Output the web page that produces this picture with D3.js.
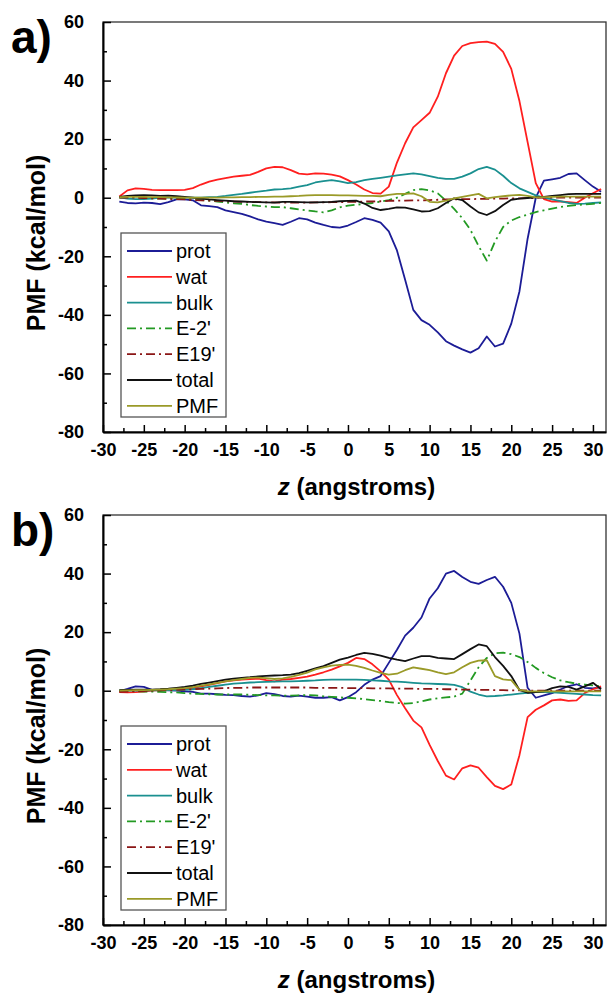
<!DOCTYPE html>
<html>
<head>
<meta charset="utf-8">
<script src="https://cdn.jsdelivr.net/npm/d3@7"></script>
<style>
	body { margin: 0; background: #fff; }
	svg { display: block; font-family: 'Liberation Sans', Arial, sans-serif; }
</style>
</head>
<body>
<svg></svg>
<script>
// z positions (angstroms) shared by every curve
const zVals = [-28, -27, -26, -25, -24, -23, -22, -21, -20, -19, -18, -17, -16, -15, -14, -13, -12, -11, -10, -9,
	-8, -7, -6, -5, -4, -3, -2, -1, 0, 1, 2, 3, 4, 5, 6, 7, 8, 9, 10, 11,
	12, 13, 14, 15, 16, 17, 18, 19, 20, 21, 22, 23, 24, 25, 26, 27, 28, 29, 30, 31];

// panel a
const protA = [-1.3, -1.8, -1.9, -1.7, -1.8, -2.2, -1.5, -0.6, -0.6, -0.9, -2.6, -2.9, -3.2, -4.3, -4.9, -5.5, -6.4, -7.4, -8.2, -8.7,
	-9.3, -8.2, -7.0, -7.4, -8.5, -9.3, -10.0, -10.2, -9.5, -8.3, -7.0, -7.6, -8.5, -11.5, -18, -28, -38.3, -41.8, -43.4, -46,
	-49, -50.5, -51.8, -52.9, -51.4, -47.4, -50.8, -49.8, -43, -32, -14, 0, 5.8, 6.3, 6.8, 8.1, 8.3, 6, 3.8, 2];
const watA = [0.4, 2.5, 3.2, 3.0, 2.7, 2.6, 2.6, 2.6, 2.7, 3.3, 4.5, 5.5, 6.2, 6.7, 7.2, 7.5, 7.8, 8.8, 10.0, 10.5,
	10.4, 9.4, 8.2, 8.0, 8.3, 8.2, 7.9, 7.3, 6.0, 4.5, 2.8, 1.6, 1.4, 3.8, 12.0, 18.6, 24.0, 26.5, 29.0, 34.5,
	42.5, 48.5, 51.8, 52.8, 53.1, 53.3, 52.5, 49.8, 44, 33, 19, 5, -0.5, -1.3, -1.3, -1.5, -1.8, 0, 1.5, 3];
const bulkA = [0.1, -0.3, -0.5, -0.5, -0.3, 0, 0, 0, 0, 0, 0, 0.2, 0.3, 0.6, 1.0, 1.3, 1.7, 2.1, 2.4, 2.8,
	2.9, 3.2, 3.8, 4.3, 5.2, 5.7, 6.0, 5.6, 5.0, 5.3, 6.0, 6.4, 6.8, 7.2, 7.6, 8.0, 8.3, 8.0, 7.4, 6.8,
	6.4, 6.4, 7.2, 8.3, 9.8, 10.5, 9.6, 7.5, 5.0, 3.2, 2.0, 0.8, 0, -0.6, -1.2, -1.8, -2.1, -2.0, -1.8, -1.6];
const e2A = [0, 0.2, 0.2, 0, -0.2, -0.3, -0.3, -0.3, -0.4, -0.6, -0.8, -1.0, -1.3, -1.6, -1.9, -2.1, -2.5, -2.8, -3.0, -3.2,
	-3.2, -3.6, -4.0, -4.3, -4.7, -5.0, -4.3, -3.3, -2.7, -2.4, -2.1, -1.8, -1.3, -0.8, 0, 1.3, 2.6, 2.9, 2.5, 1.5,
	-1, -3.8, -7, -11, -16.5, -21.5, -15, -10, -7.8, -6.6, -5.8, -4.9, -4.3, -3.7, -3.2, -2.8, -2.5, -2.3, -2.1, -1.8];
const e19A = [0, 0, 0, -0.1, -0.2, -0.3, -0.4, -0.5, -0.6, -0.8, -0.9, -1.0, -1.1, -1.2, -1.3, -1.4, -1.5, -1.5, -1.6, -1.6,
	-1.7, -1.7, -1.7, -1.7, -1.6, -1.6, -1.5, -1.5, -1.4, -1.4, -1.3, -1.3, -1.2, -1.1, -1.0, -1.0, -0.9, -0.9, -0.8, -0.7,
	-0.6, -0.6, -0.5, -0.5, -0.4, -0.4, -0.3, -0.3, -0.2, -0.2, -0.1, -0.1, 0, 0, 0, 0, 0, 0, 0, 0];
const totalA = [0.3, 0.6, 0.8, 0.9, 0.8, 0.6, 0.7, 0.5, 0.3, 0, -0.3, -0.6, -0.8, -1.0, -1.2, -1.3, -1.4, -1.5, -1.6, -1.7,
	-1.4, -1.4, -1.5, -1.6, -1.6, -1.5, -1.4, -1.2, -1.1, -1.0, -2.0, -3.5, -4.2, -3.8, -3.3, -3.4, -4.0, -4.7, -4.6, -3.6,
	-1.8, -0.2, -0.8, -3.0, -5.0, -5.9, -4.6, -2.5, -0.7, -0.3, -0.1, 0.1, 0.3, 0.6, 0.9, 1.2, 1.3, 1.3, 1.3, 1.3];
const pmfA = [0.2, 0.3, 0.3, 0.3, 0.2, 0.2, 0.1, 0.1, 0, 0, 0, 0, 0, 0.1, 0.1, 0.2, 0.2, 0.3, 0.3, 0.4,
	0.4, 0.5, 0.6, 0.8, 0.9, 0.9, 0.9, 0.8, 0.8, 0.7, 0.6, 0.6, 0.5, 1.0, 1.3, 1.3, 1.5, 0.5, -1.4, -1.6,
	-1.0, -0.2, 0.3, 0.8, 1.3, -0.2, 0.2, 0.5, 0.8, 1.0, 0.6, 0.1, 0.2, 0.3, 0.4, 0.4, 0.4, 0.4, 0.4, 0.4];

// panel b
const protB = [-0.2, 0.6, 1.5, 1.3, 0.3, 0.2, 0.1, 0, -0.2, -0.4, -1.0, -1.0, -1.2, -1.4, -1.5, -1.8, -2.0, -1.6, -0.8, -1.2,
	-1.8, -2.0, -1.7, -2.0, -2.4, -2.4, -2.2, -3.3, -2.2, -0.5, 2.0, 3.8, 5.0, 9.5, 14.0, 18.8, 21.5, 25.0, 31.5, 35,
	40, 40.9, 38.8, 37.2, 36.5, 37.8, 38.9, 35.5, 30, 19.5, 1.0, -2.4, -1.6, -0.8, 0.4, 1.6, 2.2, 1.0, 0.8, 1.2];
const watB = [-0.5, -0.6, -0.5, -0.3, 0, 0.2, 0.5, 0.6, 0.6, 0.8, 1.5, 2.0, 2.6, 3.2, 3.5, 3.8, 4.0, 4.1, 3.6, 3.2,
	3.8, 4.0, 4.4, 4.8, 5.5, 6.3, 7.2, 8.3, 9.5, 11.2, 10.8, 9.0, 6.6, 3.8, -1.5, -6.0, -10.2, -12.5, -18.5, -24,
	-29, -30.3, -26.5, -25.5, -26.3, -29.5, -32.5, -33.6, -32.0, -22, -9, -6.5, -5.0, -3.3, -3.0, -3.5, -3.3, -0.8, 0.5, 1.5];
const bulkB = [0, 0, 0, 0, 0.1, 0.1, 0.2, 0.2, 0.3, 0.5, 0.9, 1.3, 1.7, 2.1, 2.4, 2.6, 2.8, 2.9, 3.0, 3.1,
	3.2, 3.2, 3.3, 3.4, 3.5, 3.7, 3.8, 3.8, 3.8, 3.8, 3.7, 3.5, 3.4, 3.2, 3.1, 2.9, 2.7, 2.5, 2.4, 2.3,
	2.2, 2.0, 1.2, -0.3, -1.3, -1.9, -1.8, -1.6, -1.3, -1.0, -0.7, -0.5, -0.5, -0.6, -0.7, -0.9, -1.1, -1.3, -1.5, -1.6];
const e2B = [0, -0.1, -0.2, -0.3, -0.3, -0.4, -0.5, -0.6, -0.8, -1.0, -1.1, -1.2, -1.3, -1.3, -1.3, -1.3, -1.4, -1.5, -1.6, -1.6,
	-1.7, -1.7, -1.6, -1.5, -1.6, -1.9, -2.1, -2.3, -2.4, -2.6, -2.9, -3.2, -3.5, -3.9, -4.2, -4.4, -4.2, -3.6, -3.0, -2.6,
	-2.3, -2.0, -1.0, 3.5, 8, 11.2, 12.8, 13.0, 12.5, 11.5, 9.8, 7.8, 6.0, 4.6, 3.5, 2.9, 2.4, 2.1, 1.8, 1.5];
const e19B = [-0.4, -0.3, -0.2, -0.1, 0, 0.1, 0.2, 0.3, 0.4, 0.5, 0.6, 0.7, 0.8, 0.9, 1.0, 1.0, 1.1, 1.1, 1.1, 1.1,
	1.1, 1.1, 1.1, 1.1, 1.0, 1.0, 1.0, 1.0, 0.9, 0.9, 0.9, 0.8, 0.8, 0.8, 0.7, 0.7, 0.7, 0.6, 0.6, 0.6,
	0.5, 0.5, 0.4, 0.4, 0.3, 0.3, 0.2, 0.2, 0.1, 0.1, 0.1, 0, 0, 0, 0, 0, 0, 0, 0, 0];
const totalB = [0.2, 0.3, 0.4, 0.4, 0.4, 0.5, 0.7, 1.0, 1.3, 1.7, 2.3, 2.8, 3.3, 3.8, 4.1, 4.4, 4.6, 4.9, 5.1, 5.2,
	5.3, 5.5, 6.0, 6.8, 7.6, 8.4, 9.5, 10.6, 11.3, 12.2, 12.9, 12.6, 12.0, 11.2, 10.6, 10.1, 11.0, 11.8, 11.8, 11.2,
	11.0, 10.8, 12.5, 14.2, 15.8, 15.2, 11.5, 8.5, 5.0, 0.3, -0.7, -0.5, -0.2, 0.9, 1.5, 1.3, 0.4, 1.5, 2.7, 0.5];
const pmfB = [0, 0.1, 0.2, 0.2, 0.3, 0.4, 0.5, 0.7, 0.9, 1.2, 1.7, 2.2, 2.7, 3.2, 3.6, 4.0, 4.4, 4.5, 4.3, 4.0,
	4.2, 4.7, 5.4, 6.2, 7.3, 8.0, 8.6, 8.8, 8.9, 8.5, 7.8, 6.9, 6.1, 5.5, 5.8, 7.0, 8.0, 7.5, 7.0, 6.3,
	5.7, 6.3, 8.0, 9.5, 10.3, 10.4, 5.0, 3.9, 3.6, 0.3, -0.2, -0.2, -0.2, -0.2, -0.2, -0.2, -0.2, -0.2, -0.2, -0.2];

const seriesNames = ['prot', 'wat', 'bulk', "E-2'", "E19'", 'total', 'PMF'];
const panelLabels = ['a)', 'b)'];
const xTicks = [-30, -25, -20, -15, -10, -5, 0, 5, 10, 15, 20, 25, 30];
const yTicks = [60, 40, 20, 0, -20, -40, -60, -80];
const xTitle = 'z';
const xTitleRest = ' (angstroms)';
const yTitle = 'PMF (kcal/mol)';

const colors = ['#1c1c96', '#ff1f1f', '#1a9090', '#239a23', '#8b1616', '#111111', '#9a9a28'];
const dashes = [null, null, null, '9,4,2,4', '9,4,2,4', null, null];

const width = 610;
const height = 995;
const plotLeft = 103;
const plotRight = 606;
const panelTops = [22, 515];
const panelHeight = 410;

const svg = d3.select('svg')
	.attr('width', width)
	.attr('height', height);

const x = d3.scaleLinear()
	.domain([-30, 31.6])
	.range([plotLeft, plotRight]);

function drawPanel(top, label, series) {
	const bottom = top + panelHeight;
	const y = d3.scaleLinear()
		.domain([-80, 60])
		.range([bottom, top]);

	const g = svg.append('g');

	// curves
	const line = d3.line()
		.x((d, i) => x(zVals[i]))
		.y(d => y(d));

	series.forEach((vals, k) => {
		g.append('path')
			.datum(vals)
			.attr('d', line)
			.attr('fill', 'none')
			.attr('stroke', colors[k])
			.attr('stroke-width', 1.8)
			.attr('stroke-linejoin', 'round')
			.attr('stroke-dasharray', dashes[k]);
	});

	// frame
	g.append('rect')
		.attr('x', plotLeft)
		.attr('y', top)
		.attr('width', plotRight - plotLeft)
		.attr('height', panelHeight)
		.attr('fill', 'none')
		.attr('stroke', '#333')
		.attr('stroke-width', 1.3);

	// axes, ticks point inward
	const xAxisG = g.append('g')
		.attr('transform', `translate(0,${bottom})`)
		.call(d3.axisBottom(x)
			.tickValues(xTicks)
			.tickSize(-7)
			.tickSizeOuter(0)
			.tickPadding(11)
			.tickFormat(d => String(d)));
	g.append('g')
		.attr('transform', `translate(0,${bottom})`)
		.call(d3.axisBottom(x)
			.tickValues(xTicks.map(d => d + 2.5).filter(d => d < 31.6))
			.tickSize(-4)
			.tickSizeOuter(0)
			.tickFormat(''))
		.select('.domain').remove();

	const yAxisG = g.append('g')
		.attr('transform', `translate(${plotLeft},0)`)
		.call(d3.axisLeft(y)
			.tickValues(yTicks)
			.tickSize(-8)
			.tickSizeOuter(0)
			.tickPadding(19)
			.tickFormat(d => String(d)));
	g.append('g')
		.attr('transform', `translate(${plotLeft},0)`)
		.call(d3.axisLeft(y)
			.tickValues(yTicks.slice(1).map(d => d + 10))
			.tickSize(-4)
			.tickSizeOuter(0)
			.tickFormat(''))
		.select('.domain').remove();

	g.selectAll('.domain')
		.attr('stroke', '#000')
		.attr('stroke-width', 2);
	g.selectAll('.tick line')
		.attr('stroke', '#000')
		.attr('stroke-width', 1.5);
	g.selectAll('.tick text')
		.attr('fill', '#000')
		.attr('font-family', "'Liberation Sans', Arial, sans-serif")
		.attr('font-size', 18)
		.attr('font-weight', 'bold');

	// axis titles
	const xt = g.append('text')
		.attr('x', (plotLeft + plotRight) / 2 + 2)
		.attr('y', bottom + 63)
		.attr('text-anchor', 'middle')
		.attr('font-size', 24)
		.attr('font-weight', 'bold');
	xt.append('tspan').attr('font-style', 'italic').text(xTitle);
	xt.append('tspan').text(xTitleRest);

	g.append('text')
		.attr('transform', `translate(45,${top + 221}) rotate(-90)`)
		.attr('text-anchor', 'middle')
		.attr('font-size', 25)
		.attr('font-weight', 'bold')
		.text(yTitle);

	g.append('text')
		.attr('x', 11)
		.attr('y', top + 31)
		.attr('font-size', 46)
		.attr('font-weight', 'bold')
		.text(label);

	// legend
	const lg = g.append('g')
		.attr('transform', `translate(121,${top + 211})`);
	lg.append('rect')
		.attr('width', 105)
		.attr('height', 184)
		.attr('fill', '#fff')
		.attr('stroke', '#555')
		.attr('stroke-width', 1.3);
	seriesNames.forEach((name, k) => {
		const ly = 18 + k * 25.8;
		lg.append('line')
			.attr('x1', 6)
			.attr('x2', 51)
			.attr('y1', ly)
			.attr('y2', ly)
			.attr('stroke', colors[k])
			.attr('stroke-width', 1.8)
			.attr('stroke-dasharray', dashes[k]);
		lg.append('text')
			.attr('x', 55)
			.attr('y', ly)
			.attr('dy', '0.35em')
			.attr('font-size', 20)
			.text(name);
	});
}

drawPanel(panelTops[0], panelLabels[0], [protA, watA, bulkA, e2A, e19A, totalA, pmfA]);
drawPanel(panelTops[1], panelLabels[1], [protB, watB, bulkB, e2B, e19B, totalB, pmfB]);
</script>
</body>
</html>
